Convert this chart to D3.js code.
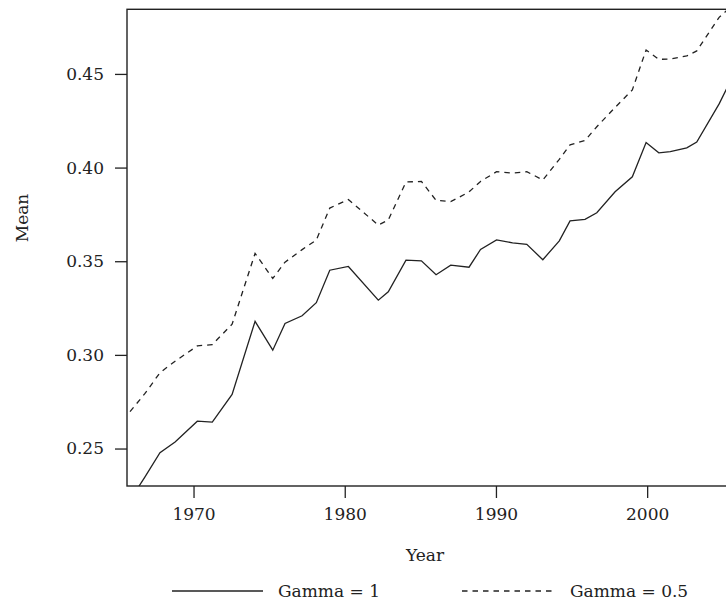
<!DOCTYPE html>
<html>
<head>
<meta charset="utf-8">
<script src="https://cdn.jsdelivr.net/npm/d3@7"></script>
<style>
  body { margin: 0; background: #fff; }
  svg { display: block; font-family: "DejaVu Serif", serif; }
</style>
</head>
<body>
<div id="chart"></div>
<script>
// years (fractional, as plotted) shared by both series
const years = [1965.80, 1966.79, 1967.78, 1968.78, 1970.25, 1971.24, 1972.55, 1974.07, 1975.24, 1976.05,
    1977.18, 1978.12, 1979.01, 1980.24, 1982.22, 1982.88, 1984.05, 1985.07, 1986.04, 1987.01,
    1988.22, 1988.98, 1990.04, 1991.10, 1992.04, 1993.10, 1994.19, 1994.90, 1995.89, 1996.67,
    1997.88, 1999.02, 1999.93, 2000.77, 2001.53, 2002.62, 2003.28, 2004.76, 2005.81];

const gamma1 = [0.2224, 0.2349, 0.2478, 0.2535, 0.2646, 0.2641, 0.2789, 0.3179, 0.3025, 0.3168,
    0.3209, 0.3279, 0.3452, 0.3472, 0.3292, 0.3337, 0.3506, 0.3502, 0.3428, 0.3479,
    0.3468, 0.3563, 0.3614, 0.3598, 0.3590, 0.3508, 0.3609, 0.3715, 0.3724, 0.3759,
    0.3871, 0.3951, 0.4134, 0.4079, 0.4085, 0.4105, 0.4136, 0.4340, 0.4511];

const gamma05 = [0.2697, 0.2794, 0.2905, 0.2966, 0.3048, 0.3055, 0.3164, 0.3542, 0.3408, 0.3495,
    0.3562, 0.3613, 0.3784, 0.3829, 0.3693, 0.3720, 0.3923, 0.3926, 0.3825, 0.3818,
    0.3870, 0.3926, 0.3978, 0.3971, 0.3978, 0.3934, 0.4044, 0.4121, 0.4145, 0.4218,
    0.4321, 0.4415, 0.4628, 0.4578, 0.4579, 0.4596, 0.4623, 0.4802, 0.4879];

const xTicks = [1970, 1980, 1990, 2000];
const yTicks = [0.25, 0.30, 0.35, 0.40, 0.45];
const seriesNames = ['Gamma = 1', 'Gamma = 0.5'];

const width = 726, height = 615;
const plotLeft = 127, plotRight = 740, plotTop = 9.3, plotBottom = 486;
const ink = '#222';

const svg = d3.select('#chart')
    .append('svg')
    .attr('width', width)
    .attr('height', height);

const xScale = d3.scaleLinear()
    .domain([1965.6, 2006.14])
    .range([plotLeft, plotRight]);

const yScale = d3.scaleLinear()
    .domain([0.23, 0.4845])
    .range([plotBottom, plotTop]);

svg.append('clipPath')
    .attr('id', 'plotclip')
    .append('rect')
    .attr('x', plotLeft)
    .attr('y', plotTop)
    .attr('width', plotRight - plotLeft)
    .attr('height', plotBottom - plotTop);

const line = d3.line()
    .x(d => xScale(d[0]))
    .y(d => yScale(d[1]));

// Gamma = 1 (solid)
svg.append('path')
    .datum(years.map((y, i) => [y, gamma1[i]]))
    .attr('d', line)
    .attr('fill', 'none')
    .attr('stroke', ink)
    .attr('stroke-width', 1.3)
    .attr('clip-path', 'url(#plotclip)');

// Gamma = 0.5 (dashed)
svg.append('path')
    .datum(years.map((y, i) => [y, gamma05[i]]))
    .attr('d', line)
    .attr('fill', 'none')
    .attr('stroke', ink)
    .attr('stroke-width', 1.3)
    .attr('stroke-dasharray', '5.5,5')
    .attr('clip-path', 'url(#plotclip)');

// box
svg.append('rect')
    .attr('x', plotLeft)
    .attr('y', plotTop)
    .attr('width', plotRight - plotLeft)
    .attr('height', plotBottom - plotTop)
    .attr('fill', 'none')
    .attr('stroke', ink)
    .attr('stroke-width', 1.4);

// axes
const xAxis = svg.append('g')
    .attr('transform', `translate(0, ${plotBottom})`)
    .call(d3.axisBottom(xScale).tickValues(xTicks).tickFormat(d3.format('d'))
        .tickSize(12).tickPadding(10));

const yAxis = svg.append('g')
    .attr('transform', `translate(${plotLeft}, 0)`)
    .call(d3.axisLeft(yScale).tickValues(yTicks).tickFormat(d3.format('.2f'))
        .tickSize(12).tickPadding(11));

[xAxis, yAxis].forEach(g => {
    g.select('.domain').remove();
    g.selectAll('.tick line').attr('stroke', ink).attr('stroke-width', 1.3);
    g.selectAll('.tick text')
        .attr('fill', ink)
        .style('font-family', '"DejaVu Serif", serif')
        .style('font-size', '17px');
});

svg.append('text')
    .attr('x', 425)
    .attr('y', 561)
    .attr('text-anchor', 'middle')
    .attr('fill', ink)
    .style('font-size', '17px')
    .text('Year');

svg.append('text')
    .attr('transform', 'translate(28, 218) rotate(-90)')
    .attr('text-anchor', 'middle')
    .attr('fill', ink)
    .style('font-size', '17px')
    .text('Mean');

// legend
const legend = svg.selectAll('.legend')
    .data(seriesNames)
    .enter()
    .append('g')
    .attr('class', 'legend')
    .attr('transform', (d, i) => `translate(${i === 0 ? 172 : 462}, 591)`);

legend.append('line')
    .attr('x1', 0)
    .attr('x2', 91)
    .attr('y1', 0)
    .attr('y2', 0)
    .attr('stroke', ink)
    .attr('stroke-width', 1.3)
    .attr('stroke-dasharray', (d, i) => i === 0 ? null : '5.5,5');

legend.append('text')
    .attr('x', (d, i) => i === 0 ? 106 : 108)
    .attr('y', 0)
    .attr('dy', '0.35em')
    .attr('fill', ink)
    .style('font-size', '17px')
    .text(d => d);
</script>
</body>
</html>
